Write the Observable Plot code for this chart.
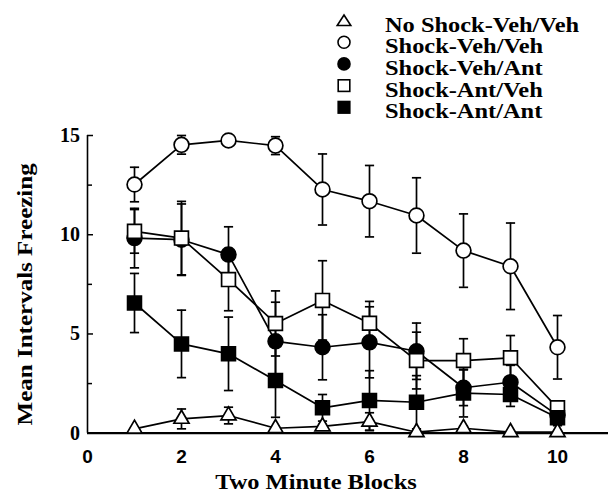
<!DOCTYPE html>
<html><head><meta charset="utf-8">
<script src="https://cdn.jsdelivr.net/npm/d3@7"></script>
<script src="https://cdn.jsdelivr.net/npm/@observablehq/plot@0.6"></script>
<style>
body{margin:0;background:#fff;}
#wrap{width:608px;}
#legend, #chart{display:block;line-height:0;}
</style></head>
<body><div id="wrap"><div id="legend"></div><div id="chart"></div></div>
<script>
// ---- data ----
const blocks = [1, 2, 3, 4, 5, 6, 7, 8, 9, 10];
const seriesNames = ["No Shock-Veh/Veh", "Shock-Veh/Veh", "Shock-Veh/Ant", "Shock-Ant/Veh", "Shock-Ant/Ant"];
const seriesSymbols = ["triangle", "circle", "circle", "square", "square"];
const seriesFills = ["white", "white", "black", "white", "black"];

const noShockVehVeh   = [0.22, 0.72, 0.89, 0.25, 0.34, 0.58, 0.05, 0.25, 0.05, 0.05];
const noShockVehVehSE = [0.05, 0.5, 0.42, 0.05, 0.1, 0.45, 0.05, 0.1, 0.05, 0.05];
const shockVehVeh     = [12.53, 14.53, 14.75, 14.49, 12.28, 11.69, 10.97, 9.2, 8.41, 4.33];
const shockVehVehSE   = [0.87, 0.47, 0.1, 0.45, 1.79, 1.8, 1.9, 1.85, 2.18, 1.6];
const shockVehAnt     = [9.83, 9.75, 9.0, 4.63, 4.33, 4.58, 4.13, 2.29, 2.57, 0.9];
const shockVehAntSE   = [1.5, 1.8, 1.4, 1.97, 1.64, 1.79, 1.42, 0.9, 0.85, 0.45];
const shockAntVeh     = [10.17, 9.83, 7.74, 5.53, 6.69, 5.54, 3.66, 3.66, 3.8, 1.28];
const shockAntVehSE   = [1.1, 1.85, 1.57, 1.64, 2.0, 1.1, 1.43, 1.1, 1.12, 0.07];
const shockAntAnt     = [6.56, 4.5, 4.0, 2.65, 1.28, 1.65, 1.56, 2.02, 1.95, 0.78];
const shockAntAntSE   = [1.49, 1.7, 1.85, 1.85, 0.67, 1.5, 1.34, 1.2, 0.6, 0.4];

const yMajor = [0, 5, 10, 15];
const yMinor = [2.5, 7.5, 12.5];
const xTicks = [0, 2, 4, 6, 8, 10];
const xLabel = "Two Minute Blocks";
const yLabel = "Mean Intervals Freezing";

// ---- table ----
const means = [noShockVehVeh, shockVehVeh, shockVehAnt, shockAntVeh, shockAntAnt];
const ses = [noShockVehVehSE, shockVehVehSE, shockVehAntSE, shockAntVehSE, shockAntAntSE];
const rows = [];
seriesNames.forEach((s, k) => blocks.forEach((b, i) => rows.push({
  series: s, block: b, mean: means[k][i], lo: means[k][i] - ses[k][i], hi: means[k][i] + ses[k][i]
})));

const cap = {draw(ctx, size) { const w = Math.sqrt(size / Math.PI); ctx.moveTo(-w, 0); ctx.lineTo(w, 0); }};
const SW = 1.7;
const serif = "Liberation Serif, Times New Roman, serif";
const sans = "Liberation Sans, Arial, sans-serif";
const WIDEN = 1.22; // reference typeface is wider than Liberation Serif

const drawOrder = [1, 2, 3, 4, 0];
const dotMarks = drawOrder.map(k => Plot.dot(rows.filter(d => d.series === seriesNames[k]), {
  x: "block", y: "mean", symbol: seriesSymbols[k],
  r: seriesSymbols[k] === "triangle" ? 5.6 : seriesSymbols[k] === "square" ? 7.8 : 7.4,
  fill: seriesFills[k], stroke: "black", strokeWidth: SW
}));

const LEG_H = 123;
const chart = Plot.plot({
  width: 608, height: 494 - LEG_H,
  marginLeft: 87, marginRight: 0, marginTop: 135 - LEG_H, marginBottom: 61.3,
  style: {background: "white"},
  x: {domain: [0, 11.085]},
  y: {domain: [0, 15]},
  marks: [
    Plot.axisY({ticks: yMajor, tickSize: -6, tickPadding: 13.5, strokeWidth: 1.5, fontSize: 20, fontFamily: serif, fontWeight: "bold", fill: "black", label: null}),
    Plot.axisY({ticks: yMinor, tickSize: -5, strokeWidth: 1.5, tickFormat: () => "", label: null}),
    Plot.axisX({ticks: xTicks, tickSize: 0, tickPadding: 16, fontSize: 19, fontFamily: sans, fontWeight: "bold", fill: "black", label: null}),
    Plot.ruleX([0], {y1: d3.min(yMajor), y2: d3.max(yMajor), stroke: "black", strokeWidth: 1.6}),
    Plot.ruleY([0], {stroke: "black", strokeWidth: 2.2}),
    Plot.line(rows, {x: "block", y: "mean", z: "series", stroke: "black", strokeWidth: SW}),
    Plot.ruleX(rows, {x: "block", y1: "lo", y2: "hi", stroke: "black", strokeWidth: SW}),
    Plot.dot(rows, {x: "block", y: "hi", symbol: cap, r: 4.6, stroke: "black", fill: "none", strokeWidth: SW}),
    Plot.dot(rows, {x: "block", y: "lo", symbol: cap, r: 4.6, stroke: "black", fill: "none", strokeWidth: SW}),
    ...dotMarks,
    Plot.text([yLabel], {frameAnchor: "left", rotate: -90, dx: -62, dy: 10, fontSize: 20.5, fontFamily: serif, fontWeight: "bold", fill: "black", textAnchor: "middle", lineAnchor: "middle"}),
    Plot.text([xLabel], {frameAnchor: "bottom", dx: -32, dy: 49, fontSize: 20, fontFamily: serif, fontWeight: "bold", fill: "black", textAnchor: "middle", lineAnchor: "middle"})
  ]
});
document.getElementById("chart").appendChild(chart);

function widen(t) {
  const L = t.getComputedTextLength();
  t.setAttribute("textLength", (L * WIDEN).toFixed(1));
  t.setAttribute("lengthAdjust", "spacingAndGlyphs");
}
chart.querySelectorAll("text").forEach(t => { if (t.textContent === xLabel || t.textContent === yLabel) widen(t); });

// ---- legend (above the chart) ----
const leg = d3.select("#legend").append("svg").attr("width", 608).attr("height", LEG_H).style("display", "block");
const pitch = 21.7, base0 = 31.5, symX = 344, textX = 385;
seriesNames.forEach((s, k) => {
  const by = base0 + k * pitch, cy = by - 11;
  const g = leg.append("g").attr("stroke", "black").attr("stroke-width", 1.6).attr("fill", seriesFills[k]);
  if (seriesSymbols[k] === "triangle") g.append("polygon").attr("points", `${symX},${cy - 5.5} ${symX + 6.8},${cy + 5} ${symX - 6.8},${cy + 5}`);
  else if (seriesSymbols[k] === "circle") g.append("circle").attr("cx", symX).attr("cy", cy).attr("r", 6);
  else g.append("rect").attr("x", symX - 5.8).attr("y", cy - 5.8).attr("width", 11.6).attr("height", 11.6);
  const t = leg.append("text").attr("x", textX).attr("y", by).attr("font-family", serif).attr("font-weight", "bold")
    .attr("font-size", 20).attr("fill", "black").text(s);
  widen(t.node());
});
</script>
</body></html>
